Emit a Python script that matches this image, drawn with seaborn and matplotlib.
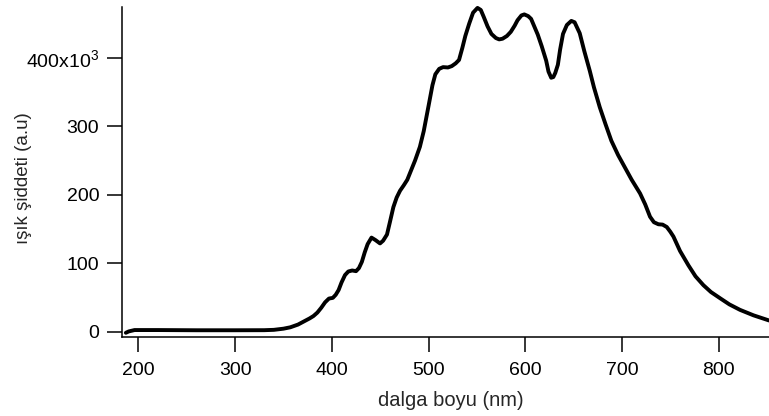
import matplotlib
matplotlib.use('Agg')
import matplotlib.pyplot as plt
from matplotlib.ticker import FuncFormatter
import seaborn as sns
import pandas as pd

# ---- data ----
wavelength_nm = [
    187, 190, 196, 220, 260, 300, 330, 340, 350, 357, 365, 371, 377, 381, 385,
    389, 393, 397, 401, 404, 407, 410, 413.6, 417, 421, 425, 428, 431, 434, 437,
    441, 445, 449.8, 453, 457, 460, 463.6, 467, 470.5, 474.4, 478, 482, 486, 491,
    495, 500, 504, 507, 511, 515, 520, 524, 528, 531.5, 535, 538, 542, 546, 550.6,
    554, 557, 561, 565, 569.6, 573, 576.5, 581, 585, 589, 592, 596, 599, 603, 606,
    609, 612.9, 617, 621.6, 624, 626.8, 629, 631, 633.7, 636, 639, 643, 647.6, 651,
    656.3, 661, 666.7, 671, 677, 683, 689, 696, 703, 710, 718.7, 724, 729, 733,
    737.6, 742, 746.3, 750, 753.2, 760, 768.7, 776, 784.2, 792, 801.4, 811, 822,
    836, 852,
]
intensity_k = [
    -1.5, 0.5, 2.5, 2.5, 2.2, 2.2, 2.3, 2.8, 4.5, 6.5, 10.5, 15, 19.5, 23, 28,
    35, 43, 48.5, 49.5, 54, 61, 72, 82.8, 88, 89.5, 88.5, 93, 102, 116, 128,
    137.5, 134, 129, 133, 142, 160, 182, 196, 206, 214, 222, 236, 250, 270,
    293, 330, 360, 376, 384, 386.5, 386, 388, 392, 397, 415, 432, 450, 466, 473,
    470, 460, 446, 435, 429, 427, 428, 432, 438, 447, 455, 462, 463.5, 461, 457,
    447, 434, 417, 396, 380, 371, 372, 378, 390, 412, 435, 448, 454, 452,
    436, 410, 381, 357, 328, 303, 279, 258, 240, 222, 202, 186, 168, 160,
    157, 156.5, 153, 146, 139, 118, 97, 81, 68, 58, 49, 40, 32,
    24, 16.5,
]
x_ticks = [200, 300, 400, 500, 600, 700, 800]
y_ticks = [0, 100, 200, 300, 400]

df = pd.DataFrame({'nm': wavelength_nm, 'val': intensity_k})

sns.set_style('ticks')
plt.rcParams['font.family'] = ['Liberation Sans', 'DejaVu Sans']
plt.rcParams['mathtext.fontset'] = 'custom'
plt.rcParams['mathtext.rm'] = 'Liberation Sans'
plt.rcParams['mathtext.it'] = 'Liberation Sans'
plt.rcParams['mathtext.bf'] = 'Liberation Sans'

fig = plt.figure(figsize=(7.69, 4.16), dpi=100)
ax = fig.add_axes([0.158, 0.189, 0.842, 0.793])

sns.lineplot(data=df, x='nm', y='val', color='black', lw=2.8,
             estimator=None, ax=ax, clip_on=False)

ax.set_xlim(182.5, 852)
ax.set_ylim(-8.2, 473.6)
ax.set_xticks(x_ticks)
ax.set_yticks(y_ticks)
ax.yaxis.set_major_formatter(FuncFormatter(
    lambda v, p: r'$\mathregular{400x10^{3}}$' if v == 400 else f'{v:.0f}'))

for s in ['top', 'right']:
    ax.spines[s].set_visible(False)
for s in ['left', 'bottom']:
    ax.spines[s].set_linewidth(1.1)
    ax.spines[s].set_color('black')
ax.tick_params(direction='out', length=10.5, width=1.1, colors='black',
               labelsize=14)
ax.tick_params(axis='x', pad=7)
ax.tick_params(axis='y', pad=5.5)

ax.set_xlabel('dalga boyu (nm)', fontsize=14.5, va='baseline')
ax.xaxis.set_label_coords(0.509, -0.208)
ax.set_ylabel('ışık şiddeti (a.u)', fontsize=13.5, va='center', ha='center')
ax.yaxis.set_label_coords(-0.151, 0.484)

fig.savefig('out.png', dpi=100)
